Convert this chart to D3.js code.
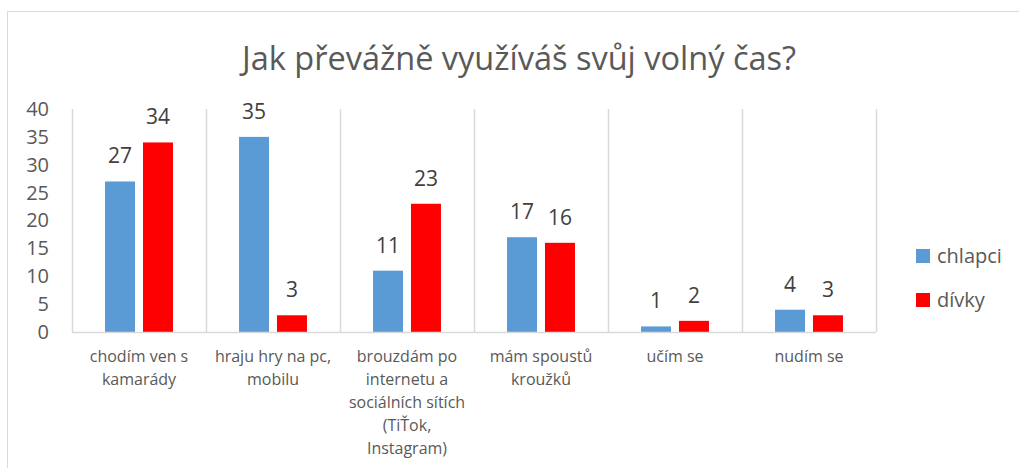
<!DOCTYPE html>
<html>
<head>
<meta charset="utf-8">
<script src="https://cdn.jsdelivr.net/npm/d3@7"></script>
<style>
  body { margin: 0; background: #fff; }
  text { font-family: "Open Sans", sans-serif; }
</style>
</head>
<body>
<svg id="chart" width="1019" height="468"></svg>
<script>
// chart data
var categories = [
  ["chodím ven s", "kamarády"],
  ["hraju hry na pc,", "mobilu"],
  ["brouzdám po", "internetu a", "sociálních sítích", "(TiŤok,", "Instagram)"],
  ["mám spoustů", "kroužků"],
  ["učím se"],
  ["nudím se"]
];
var seriesNames = ["chlapci", "dívky"];
var chlapci = [27, 35, 11, 17, 1, 4];
var divky = [34, 3, 23, 16, 2, 3];
var yTicks = [0, 5, 10, 15, 20, 25, 30, 35, 40];
var title = "Jak převážně využíváš svůj volný čas?";

var colors = ["#5b9bd5", "#ff0000"];
var WIDTH = 1019, HEIGHT = 468;
var MARGINS = { top: 109, right: 143, bottom: 136, left: 72 };

var svg = d3.select("#chart");

// outer frame (only top and left edges are visible)
svg.append("path")
  .attr("d", "M7.5,470V11.5H1019")
  .attr("fill", "none")
  .attr("stroke", "#d9d9d9")
  .attr("stroke-width", 1);

var x0 = d3.scaleBand()
  .domain(d3.range(categories.length))
  .range([MARGINS.left, WIDTH - MARGINS.right])
  .paddingInner(0).paddingOuter(0);

var x1 = d3.scaleBand()
  .domain([0, 1])
  .range([0, x0.bandwidth()])
  .paddingInner(0.21)
  .paddingOuter(0.87);

var y = d3.scaleLinear().domain([0, 40]).range([HEIGHT - MARGINS.bottom, MARGINS.top]);

// vertical category separators
var seps = d3.range(categories.length + 1).map(function (i) {
  return i < categories.length ? x0(i) : x0(i - 1) + x0.bandwidth();
});
svg.append("g").selectAll("line").data(seps).enter().append("line")
  .attr("x1", function (d) { return Math.round(d) + 0.5; })
  .attr("x2", function (d) { return Math.round(d) + 0.5; })
  .attr("y1", y(40))
  .attr("y2", y(0))
  .attr("stroke", "#d9d9d9")
  .attr("stroke-width", 1.5);

// y axis labels
var yAxis = d3.axisLeft(y).tickValues(yTicks).tickSize(0).tickPadding(23);
var gy = svg.append("g")
  .attr("transform", "translate(" + MARGINS.left + ",0)")
  .call(yAxis);
gy.select(".domain").remove();
gy.selectAll("text")
  .attr("font-size", 20)
  .attr("fill", "#595959")
  .style("font-family", "Open Sans");

// bars
var series = [chlapci, divky];
series.forEach(function (vals, s) {
  var g = svg.append("g");
  g.selectAll("rect").data(vals).enter().append("rect")
    .attr("x", function (d, i) { return x0(i) + x1(s); })
    .attr("y", function (d) { return y(d); })
    .attr("width", x1.bandwidth())
    .attr("height", function (d) { return y(0) - y(d); })
    .attr("fill", colors[s]);
  g.selectAll("text").data(vals).enter().append("text")
    .attr("x", function (d, i) { return x0(i) + x1(s) + x1.bandwidth() / 2; })
    .attr("y", function (d) { return y(d) - 18; })
    .attr("text-anchor", "middle")
    .attr("font-size", 21)
    .attr("fill", "#404040")
    .text(function (d) { return d; });
});

// x axis line
svg.append("line")
  .attr("x1", MARGINS.left)
  .attr("x2", WIDTH - MARGINS.right)
  .attr("y1", y(0) + 0.5)
  .attr("y2", y(0) + 0.5)
  .attr("stroke", "#d9d9d9")
  .attr("stroke-width", 1.5);

// category labels
var cl = svg.append("g").selectAll("text").data(categories).enter().append("text")
  .attr("x", function (d, i) { return x0(i) + x0.bandwidth() / 2; })
  .attr("y", y(0) + 30)
  .attr("text-anchor", "middle")
  .attr("font-size", 16)
  .attr("fill", "#595959");
cl.selectAll("tspan").data(function (d) { return d; }).enter().append("tspan")
  .attr("x", function () { return d3.select(this.parentNode).attr("x"); })
  .attr("dy", function (d, i) { return i === 0 ? 0 : 23; })
  .text(function (d) { return d; });

// title
svg.append("text")
  .attr("x", 519)
  .attr("y", 70)
  .attr("text-anchor", "middle")
  .attr("font-size", 32.5)
  .attr("fill", "#595959")
  .text(title);

// legend
var lg = svg.append("g").selectAll("g").data(seriesNames).enter().append("g")
  .attr("transform", function (d, i) { return "translate(916," + (249 + i * 44) + ")"; });
lg.append("rect")
  .attr("width", 14).attr("height", 14)
  .attr("fill", function (d, i) { return colors[i]; });
lg.append("text")
  .attr("x", 21)
  .attr("y", 14)
  .attr("font-size", 20)
  .attr("fill", "#595959")
  .text(function (d) { return d; });
</script>
</body>
</html>
